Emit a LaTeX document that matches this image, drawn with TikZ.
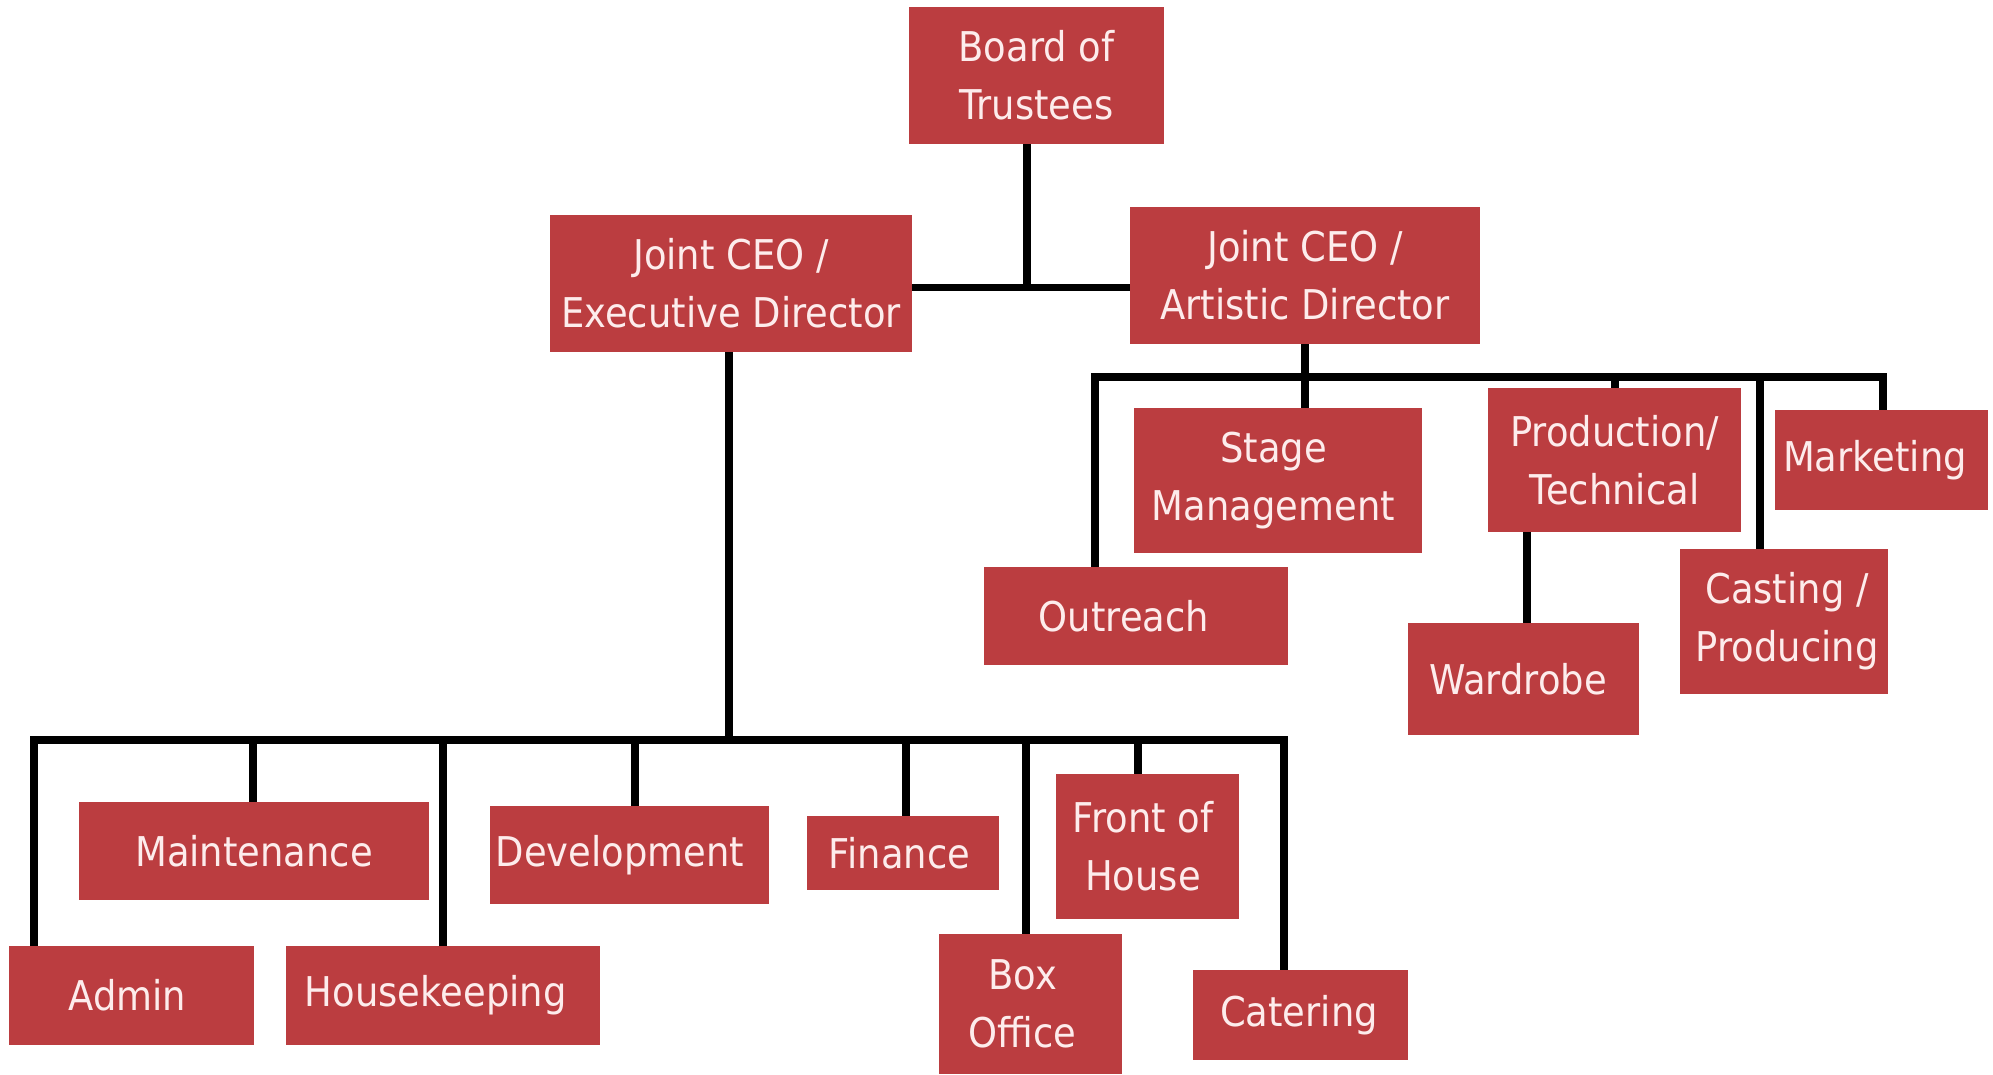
\documentclass[tikz,border=0pt]{standalone}
\usepackage{fontspec}
\setmainfont{DejaVu Sans}[FakeStretch=0.90]
\definecolor{boxred}{RGB}{187,61,64}
\definecolor{boxtext}{RGB}{253,236,236}
\begin{document}
\begin{tikzpicture}[x=1pt,y=-1pt,
  orgbox/.style={fill=boxred, text=boxtext, inner sep=0pt, align=center,
    font=\fontsize{41}{58}\selectfont},
  link/.style={line width=7.5pt, draw=black}]
\useasboundingbox (0,0) rectangle (1993,1074);
% boxes
\node[orgbox, minimum width=255pt, minimum height=137pt] (board) at (1036.5,75.5) {Board of\\Trustees};
\node[orgbox, minimum width=362pt, minimum height=137pt] (exec) at (731,283.5) {Joint CEO /\\Executive Director};
\node[orgbox, minimum width=350pt, minimum height=137pt] (art) at (1305,275.5) {Joint CEO /\\Artistic Director};
\node[orgbox, minimum width=288pt, minimum height=145pt] (stage) at (1278,480.5) {Stage\kern9pt\\Management\kern9pt};
\node[orgbox, minimum width=253pt, minimum height=144pt] (prod) at (1614.5,460) {Production/\\Technical};
\node[orgbox, minimum width=213pt, minimum height=100pt] (mkt) at (1881.5,460) {Marketing\kern13pt};
\node[orgbox, minimum width=304pt, minimum height=98pt] (outreach) at (1136,616) {Outreach\kern24pt};
\node[orgbox, minimum width=231pt, minimum height=112pt] (wardrobe) at (1523.5,679) {Wardrobe\kern11pt};
\node[orgbox, minimum width=208pt, minimum height=145pt] (casting) at (1784,621.5) {\kern6pt Casting /\\\kern6pt Producing};
\node[orgbox, minimum width=350pt, minimum height=98pt] (maint) at (254,851) {Maintenance};
\node[orgbox, minimum width=279pt, minimum height=98pt] (dev) at (629.5,855) {Development\kern19pt};
\node[orgbox, minimum width=192pt, minimum height=74pt] (fin) at (903,853) {Finance\kern7pt};
\node[orgbox, minimum width=183pt, minimum height=145pt] (foh) at (1147.5,846.5) {Front of\kern9pt\\House\kern9pt};
\node[orgbox, minimum width=245pt, minimum height=99pt] (admin) at (131.5,995.5) {Admin\kern8pt};
\node[orgbox, minimum width=313.5pt, minimum height=99pt] (house) at (442.75,995.5) {Housekeeping\kern14pt};
\node[orgbox, minimum width=183pt, minimum height=140pt] (boxoff) at (1030.5,1004) {Box\kern16pt\\Office\kern16pt};
\node[orgbox, minimum width=215pt, minimum height=90pt] (catering) at (1300.5,1015) {Catering\kern3pt};
% top connectors
\coordinate (jb) at (1027,287.5);
\draw[link] (board.south -| jb) -- (jb);
\draw[link] (exec.east |- jb) -- (art.west |- jb);
% left bus
\coordinate (lb) at (34,740);
\coordinate (rb) at (1284,740);
\coordinate (dexec) at (729,740);
\draw[link] (exec.south -| dexec) -- (dexec);
\draw[link] (admin.north -| lb) -- (lb) -- (rb) -- (catering.north -| rb);
\coordinate (dmaint) at (253,740);
\coordinate (dhouse) at (443,740);
\coordinate (ddev) at (635,740);
\coordinate (dfin) at (906,740);
\coordinate (dbox) at (1026,740);
\coordinate (dfoh) at (1138,740);
\draw[link] (dmaint) -- (maint.north -| dmaint);
\draw[link] (dhouse) -- (house.north -| dhouse);
\draw[link] (ddev) -- (dev.north -| ddev);
\draw[link] (dfin) -- (fin.north -| dfin);
\draw[link] (dbox) -- (boxoff.north -| dbox);
\draw[link] (dfoh) -- (foh.north -| dfoh);
% right bus
\coordinate (rl) at (1095,377);
\coordinate (rr) at (1883,377);
\draw[link] (outreach.north -| rl) -- (rl) -- (rr) -- (mkt.north -| rr);
\draw[link] (art.south) -- (stage.north -| art.south);
\coordinate (dprod) at (1615,377);
\coordinate (dcast) at (1760,377);
\coordinate (dward) at (1527,532);
\draw[link] (dprod) -- (prod.north -| dprod);
\draw[link] (dcast) -- (casting.north -| dcast);
\draw[link] (prod.south -| dward) -- (wardrobe.north -| dward);
\end{tikzpicture}
\end{document}
